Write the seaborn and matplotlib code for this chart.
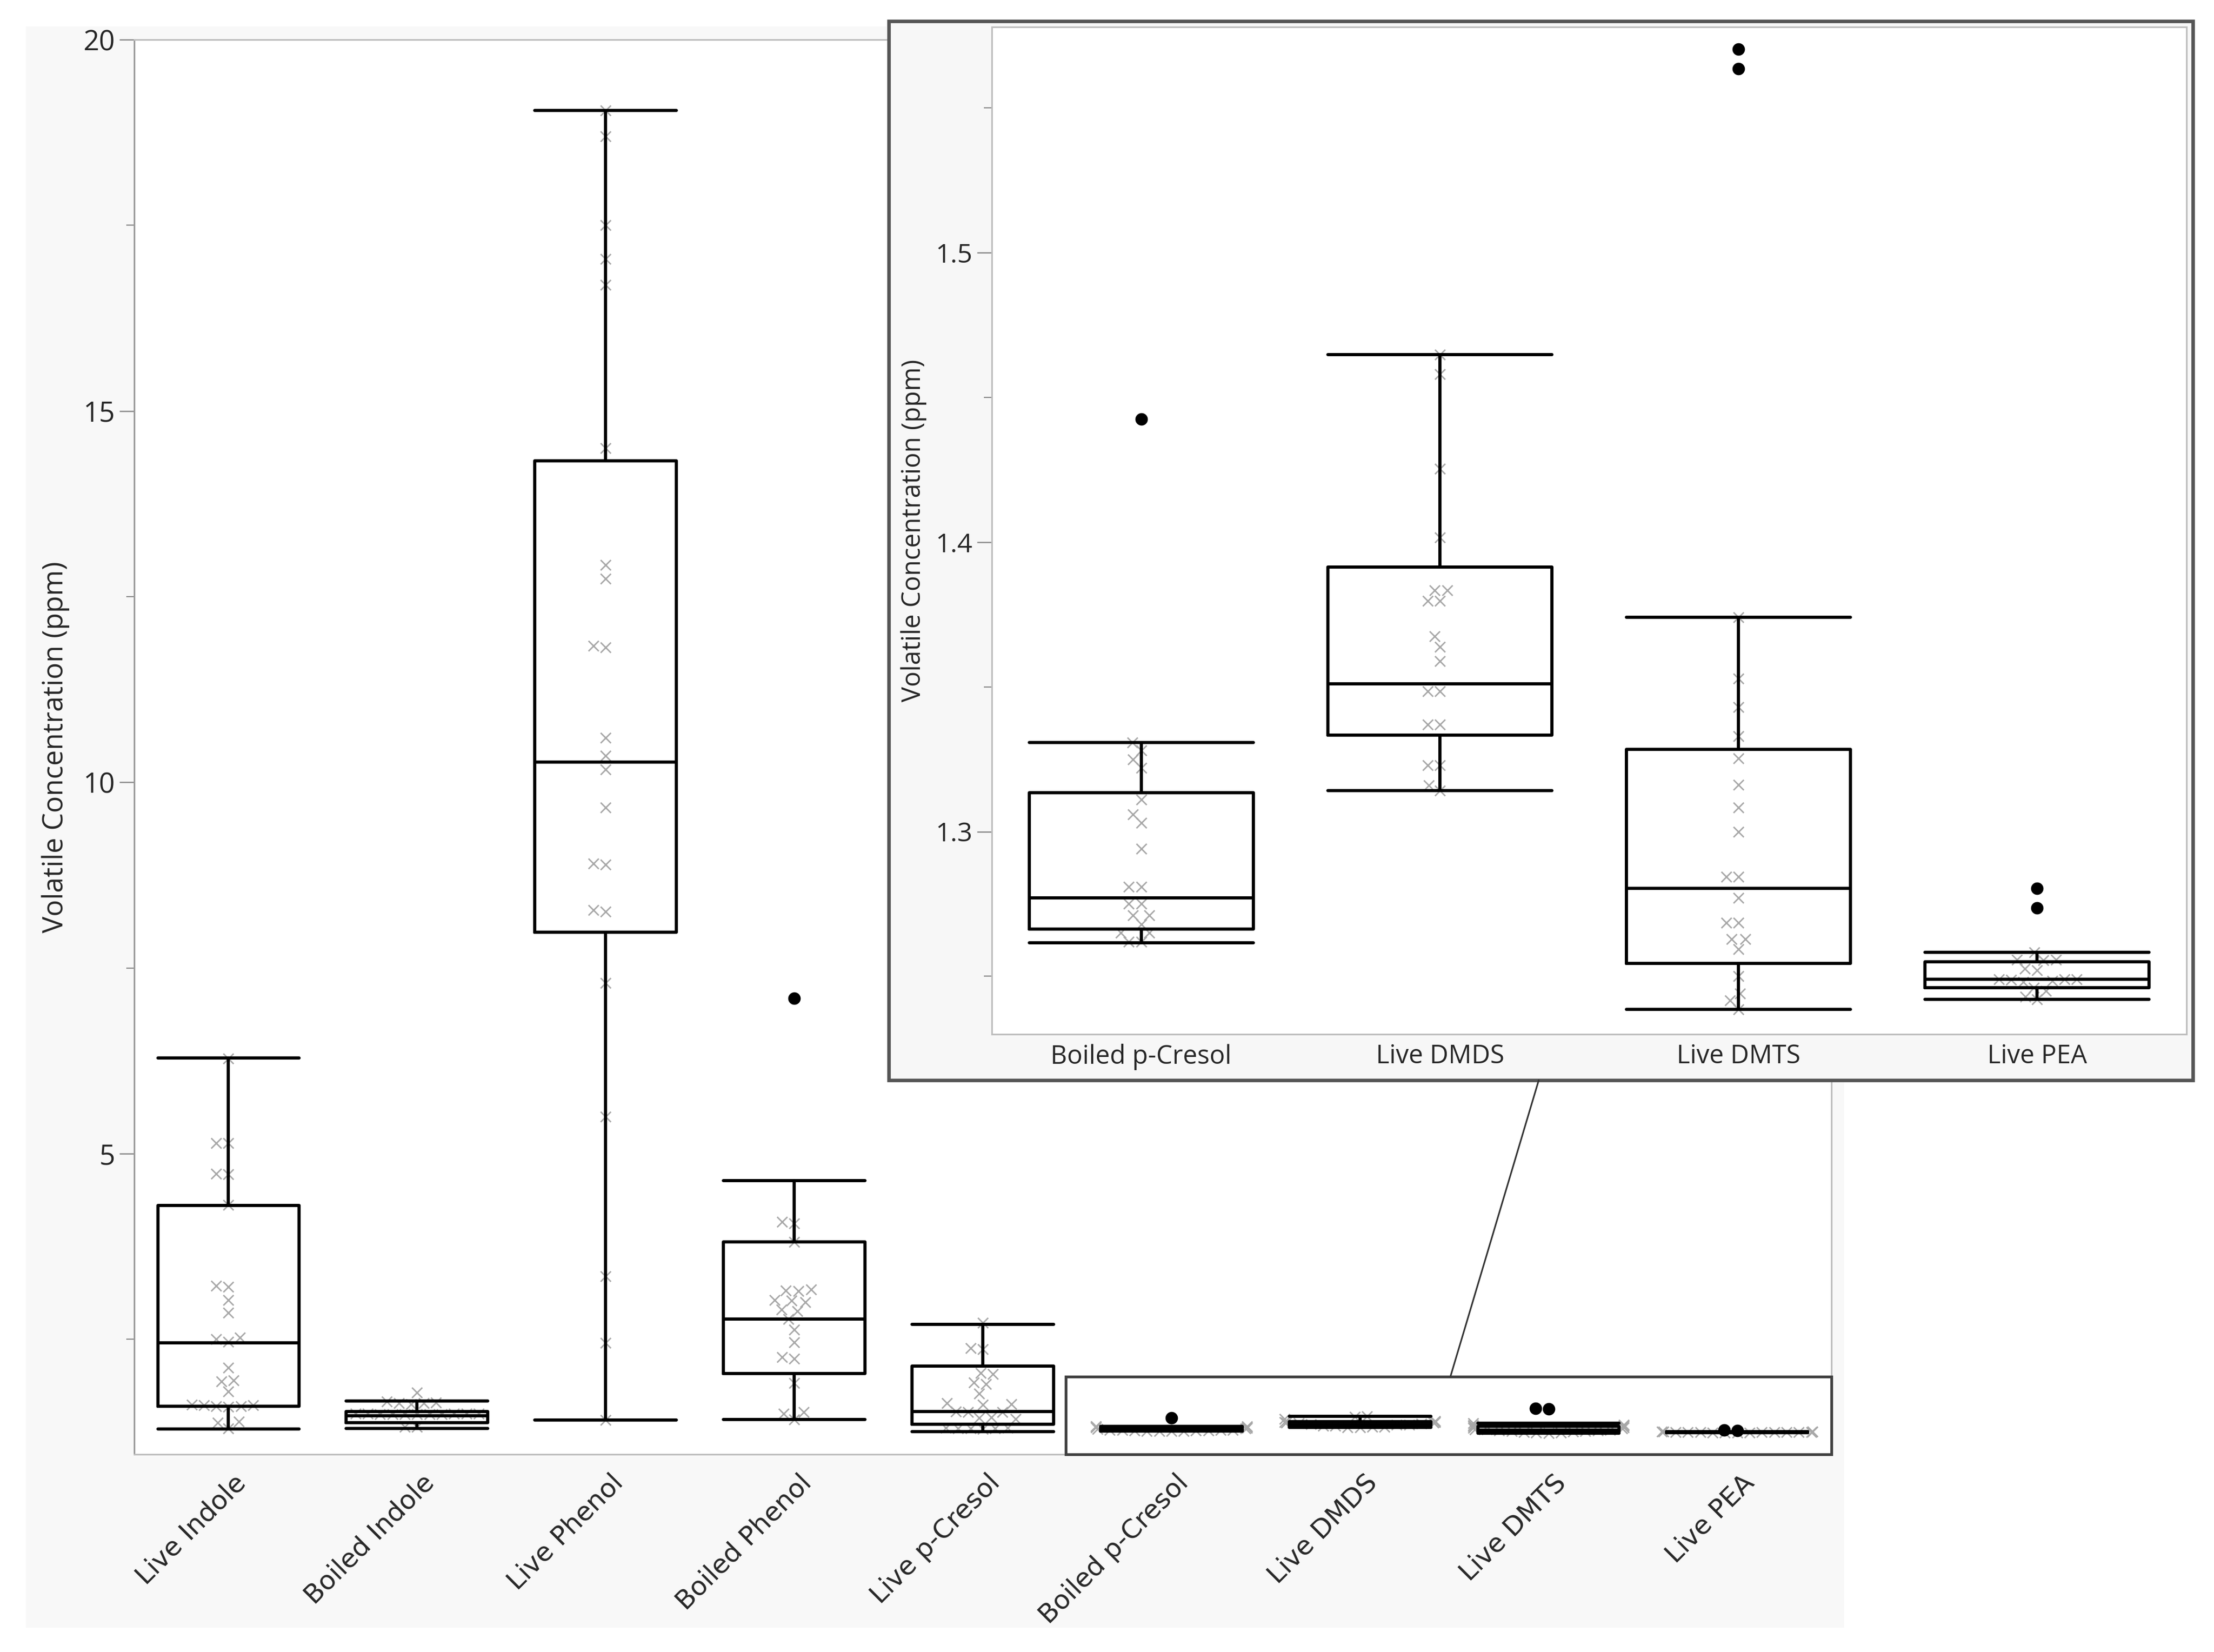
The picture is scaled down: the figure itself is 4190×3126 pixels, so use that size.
import warnings
import numpy as np
import pandas as pd
import matplotlib.pyplot as plt
import matplotlib.transforms as mtransforms
from matplotlib.patches import Rectangle, ConnectionPatch
from matplotlib.ticker import MultipleLocator, FixedLocator
import seaborn as sns
warnings.filterwarnings('ignore')

sns.set_style('white')
plt.rcParams['font.family'] = ['Open Sans', 'DejaVu Sans']

# ── DATA ─────────────────────────────────────────────────────────────────────
groups = ['Live Indole', 'Boiled Indole', 'Live Phenol', 'Boiled Phenol', 'Live p-Cresol',
          'Boiled p-Cresol', 'Live DMDS', 'Live DMTS', 'Live PEA']
inset_groups = groups[5:]

live_indole = [6.28, 5.14, 5.14, 4.73, 4.72, 4.31, 3.22, 3.21, 3.03, 2.86, 2.52, 2.50, 2.47,
               2.12, 1.95, 1.93, 1.80, 1.62, 1.61, 1.61, 1.60, 1.60, 1.59, 1.39, 1.38, 1.30]
boiled_indole = [1.78, 1.66, 1.65, 1.64, 1.64, 1.63, 1.50, 1.50, 1.50, 1.50, 1.50, 1.49,
                 1.49, 1.49, 1.49, 1.49, 1.49, 1.32, 1.32]
live_phenol = [19.05, 18.7, 17.5, 17.05, 16.7, 14.5, 12.93, 12.74, 11.84, 11.82, 10.6, 10.36,
               10.17, 9.66, 8.91, 8.89, 8.28, 8.26, 7.3, 5.5, 3.35, 2.45, 1.41]
boiled_phenol = [4.08, 4.06, 3.81, 3.17, 3.16, 3.15, 3.03, 3.02, 3.00, 2.90, 2.88, 2.77, 2.63,
                 2.46, 2.26, 2.24, 1.91, 1.52, 1.50, 1.42]
live_pcresol = [2.72, 2.38, 2.37, 2.05, 2.03, 1.92, 1.90, 1.77, 1.64, 1.63, 1.62, 1.53, 1.52,
                1.52, 1.45, 1.44, 1.43, 1.31, 1.31, 1.30, 1.30, 1.30, 1.29]
boiled_pcresol = [1.3308, 1.328, 1.325, 1.322, 1.311, 1.306, 1.303, 1.294, 1.281, 1.281, 1.275,
                  1.275, 1.271, 1.271, 1.268, 1.265, 1.265, 1.262, 1.262]
live_dmds = [1.4648, 1.458, 1.4254, 1.4017, 1.3834, 1.3834, 1.3797, 1.3797, 1.3675, 1.3638,
             1.3589, 1.3484, 1.3484, 1.3369, 1.3369, 1.323, 1.323, 1.316, 1.3142]
live_dmts = [1.3741, 1.3528, 1.343, 1.333, 1.3252, 1.3161, 1.3083, 1.300, 1.2844, 1.2844, 1.277,
             1.2685, 1.2685, 1.2628, 1.2628, 1.2594, 1.250, 1.244, 1.2416, 1.2386]
live_pea = [1.2582, 1.2557, 1.2557, 1.2555, 1.2526, 1.2520, 1.249, 1.249, 1.249, 1.2488, 1.2485,
            1.248, 1.246, 1.245, 1.243, 1.2421]

# box summary (lower whisker, Q1, median, Q3, upper whisker)
whisk_lo = [1.29, 1.30, 1.41, 1.42, 1.26, 1.2616, 1.3142, 1.2386, 1.2421]
q1       = [1.60, 1.38, 7.98, 2.04, 1.36, 1.2663, 1.3333, 1.2545, 1.2460]
median   = [2.45, 1.47, 10.27, 2.77, 1.53, 1.2770, 1.3511, 1.2804, 1.2489]
q3       = [4.30, 1.53, 14.33, 3.81, 2.14, 1.3134, 1.3914, 1.3284, 1.2550]
whisk_hi = [6.29, 1.67, 19.05, 4.64, 2.70, 1.3308, 1.4648, 1.3741, 1.2582]

outlier_group = ['Boiled Phenol', 'Boiled p-Cresol', 'Live DMTS', 'Live DMTS', 'Live PEA', 'Live PEA']
outlier_value = [7.09, 1.4425, 1.5704, 1.5636, 1.2804, 1.2736]

obs = [live_indole, boiled_indole, live_phenol, boiled_phenol, live_pcresol,
       boiled_pcresol, live_dmds, live_dmts, live_pea]
pts = pd.DataFrame({'group': np.repeat(groups, [len(o) for o in obs]),
                    'value': np.concatenate(obs)})
outl = pd.DataFrame({'group': outlier_group, 'value': outlier_value})

LW = 4.3
XCOL = '#a8a8a8'


def draw_panel(ax, names):
    idx = [groups.index(n) for n in names]
    stats = [dict(whislo=whisk_lo[i], q1=q1[i], med=median[i], q3=q3[i],
                  whishi=whisk_hi[i], fliers=[]) for i in idx]
    sub = pts[pts['group'].isin(names)]
    sns.swarmplot(data=sub, x='group', y='value', order=names, marker='x', color=XCOL,
                  size=14, linewidth=2.0, ax=ax, zorder=2)
    ax.bxp(stats, positions=range(len(names)), widths=0.75, capwidths=0.75, showfliers=False,
           manage_ticks=False,
           boxprops=dict(color='black', lw=LW), whiskerprops=dict(color='black', lw=LW),
           capprops=dict(color='black', lw=LW), medianprops=dict(color='black', lw=LW),
           zorder=3)
    osub = outl[outl['group'].isin(names)]
    sns.swarmplot(data=osub, x='group', y='value', order=names, color='black', size=17,
                  linewidth=0, ax=ax, zorder=4)
    ax.set_xlim(-0.5, len(names) - 0.5)
    ax.set_xlabel('')
    for s in ax.spines.values():
        s.set_color('#bdbdbd')
        s.set_linewidth(2.2)
    ax.tick_params(axis='x', length=0)
    ax.tick_params(axis='y', which='major', direction='out', length=20, width=1.8,
                   color='#8a8a8a', labelsize=36, pad=6, left=True)
    ax.tick_params(axis='y', which='minor', direction='out', length=11, width=1.6,
                   color='#8a8a8a', left=True)


fig = plt.figure(figsize=(41.9, 31.26), dpi=100)

# light grey report background
fig.add_artist(Rectangle((0.0117, 0.0147), 0.8213, 0.9693, transform=fig.transFigure,
                         facecolor='#f8f8f8', edgecolor='none', zorder=-5))

# ── MAIN PLOT ────────────────────────────────────────────────────────────────
ax = fig.add_axes([0.0606, 0.1196, 0.7666, 0.8564], zorder=0)
ax.set_facecolor('white')
draw_panel(ax, groups)
ax.set_ylim(0.95, 20)
ax.yaxis.set_major_locator(FixedLocator([5, 10, 15, 20]))
ax.yaxis.set_minor_locator(MultipleLocator(2.5))
ax.spines['left'].set_color('#9a9a9a')
ax.tick_params(axis='y', which='major', labelsize=38)
ax.set_ylabel('Volatile Concentration (ppm)', fontsize=38, labelpad=18)
ax.set_xticks(range(len(groups)))
ax.set_xticklabels(groups, rotation=45, ha='right', va='top', rotation_mode='anchor',
                   fontsize=36, family='DejaVu Sans')
ax.tick_params(axis='x', pad=21)
shift = mtransforms.ScaledTranslation(0.08, 0, fig.dpi_scale_trans)
for lbl in ax.get_xticklabels():
    lbl.set_transform(lbl.get_transform() + shift)

# zoom indicator
ax.add_patch(Rectangle((4.44, 0.95), 8.5 - 4.44, 2.0 - 0.95, fill=False,
                       edgecolor='#404040', lw=3.8, zorder=6, clip_on=False))

# ── INSET ────────────────────────────────────────────────────────────────────
fig.add_artist(Rectangle((0.4014, 0.3461), 0.589, 0.6411, transform=fig.transFigure,
                         facecolor='#f7f7f7', edgecolor='#555555', lw=4.8, zorder=1))
axi = fig.add_axes([0.448, 0.374, 0.5396, 0.6097], zorder=2)
axi.set_facecolor('white')
draw_panel(axi, inset_groups)
axi.set_ylim(1.230, 1.578)
axi.yaxis.set_major_locator(FixedLocator([1.3, 1.4, 1.5]))
axi.yaxis.set_minor_locator(MultipleLocator(0.05))
axi.set_yticklabels(['1.3', '1.4', '1.5'])
axi.set_ylabel('Volatile Concentration (ppm)', fontsize=35, labelpad=12)
axi.tick_params(axis='x', labelsize=35, pad=13)

con = ConnectionPatch(xyA=(6.48, 2.0), coordsA=ax.transData,
                      xyB=(0.695, 0.3461), coordsB=fig.transFigure,
                      color='#333333', lw=2.2, zorder=1.5)
fig.add_artist(con)

fig.savefig('out.png', dpi=100, facecolor='white')
